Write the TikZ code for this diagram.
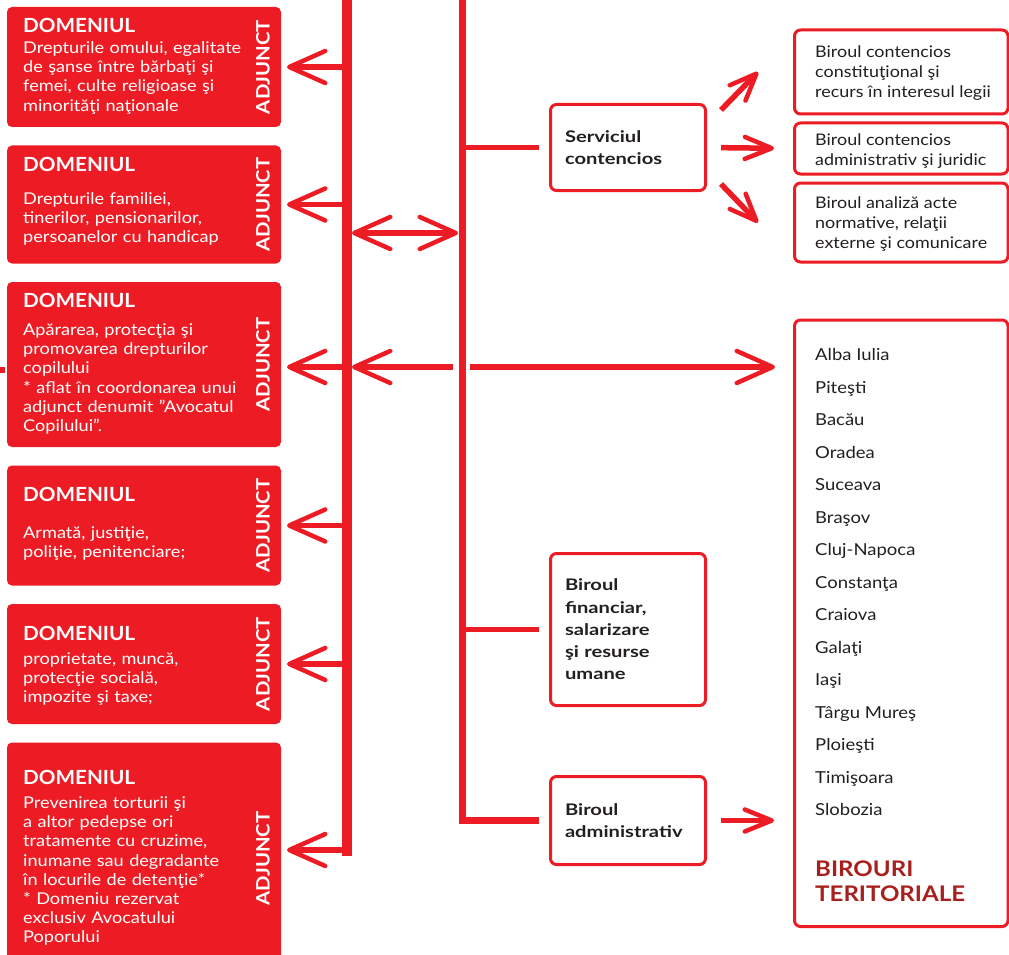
\documentclass[tikz,border=0pt]{standalone}
\usepackage{fontspec}
\setmainfont{Lato}[FakeStretch=1.12]
\newfontfamily\headfont{Lato}[FakeStretch=1.06]
\newfontfamily\officefont{Lato}[FakeStretch=1.26]
\newfontfamily\adjfont{Lato}[FakeStretch=1.1]
\usetikzlibrary{arrows.meta,positioning}
\definecolor{Red}{HTML}{ED1C24}
\definecolor{Ink}{HTML}{231F20}
\definecolor{DarkRed}{HTML}{A8201E}
\hyphenpenalty=10000
\exhyphenpenalty=10000
\newcommand{\domhead}{{\headfont\fontsize{19.5pt}{19.5pt}\selectfont\bfseries DOMENIUL}}

\begin{document}
\begin{tikzpicture}[
  x=1pt,y=-1pt,node distance=18.5pt,
  redbox/.style={fill=Red,rounded corners=5pt,minimum width=274pt,inner sep=0pt,outer sep=0pt},
  domtext/.style={text=white,text width=250pt,align=left,inner sep=0pt,font=\fontsize{16.2pt}{19.2pt}\selectfont},
  adj/.style={text=white,rotate=90,inner sep=0pt,font=\adjfont\fontsize{18.5pt}{18.5pt}\selectfont\bfseries},
  wbox/.style={draw=Red,line width=3pt,rounded corners=6pt,fill=white,inner sep=0pt,outer sep=0pt},
  office/.style={wbox,text=Ink,text width=126pt,inner xsep=14.5pt,minimum width=155pt,align=left,font=\officefont\fontsize{16pt}{22.3pt}\selectfont\bfseries},
  rbtext/.style={text=Ink,align=left,inner sep=0pt,font=\fontsize{16pt}{20pt}\selectfont},
  trunk/.style={draw=Red,line width=10pt},
  shaft/.style={draw=Red,line width=5.5pt},
  bigarrow/.style={shaft,-{Straight Barb[length=36pt,width=32pt,line width=4.5pt,round]}},
  smallarrow/.style={shaft,-{Straight Barb[length=27pt,width=22pt,line width=4.5pt,round]}}
]
  \useasboundingbox (0,0) rectangle (1009,955);
  \clip (0,0) rectangle (1009,955);

  % domains on the left
  \node[redbox,minimum height=120pt,anchor=north west] (dom1) at (7,7) {};
  \node[redbox,minimum height=118pt,below=of dom1] (dom2) {};
  \node[redbox,minimum height=165pt,below=of dom2] (dom3) {};
  \node[redbox,minimum height=120pt,below=of dom3] (dom4) {};
  \node[redbox,minimum height=120pt,below=of dom4] (dom5) {};
  \node[redbox,minimum height=232pt,below=of dom5] (dom6) {};

  \node[domtext,below right=11pt and 16pt of dom1.north west] (txt1) {\domhead\\[1.8pt]Drepturile omului, egalitate\\de şanse între bărbaţi şi\\femei, culte religioase şi\\minorităţi naţionale};
  \node[domtext,below right=11.5pt and 16pt of dom2.north west] (txt2) {\domhead\\[13.8pt]Drepturile familiei,\\tinerilor, pensionarilor,\\persoanelor cu handicap};
  \node[domtext,below right=11pt and 16pt of dom3.north west] (txt3) {\domhead\\[8.8pt]Apărarea, protecţia şi\\promovarea drepturilor\\copilului\\{}* aflat în coordonarea unui\\adjunct denumit ”Avocatul\\Copilului”.};
  \node[domtext,below right=21.5pt and 16pt of dom4.north west] (txt4) {\domhead\\[17.8pt]Armată, justiţie,\\poliţie, penitenciare;};
  \node[domtext,below right=22pt and 16pt of dom5.north west] (txt5) {\domhead\\[4.8pt]proprietate, muncă,\\protecţie socială,\\impozite şi taxe;};
  \node[domtext,below right=27.5pt and 16pt of dom6.north west] (txt6) {\domhead\\[4.8pt]Prevenirea torturii şi\\a altor pedepse ori\\tratamente cu cruzime,\\inumane sau degradante\\în locurile de detenţie*\\{}* Domeniu rezervat\\exclusiv Avocatului\\Poporului};

  \node[adj] (adj1) at ([xshift=-18pt]dom1.east) {ADJUNCT};
  \node[adj] (adj2) at ([xshift=-18pt]dom2.east) {ADJUNCT};
  \node[adj] (adj3) at ([xshift=-18pt]dom3.east) {ADJUNCT};
  \node[adj] (adj4) at ([xshift=-18pt]dom4.east) {ADJUNCT};
  \node[adj] (adj5) at ([xshift=-18pt]dom5.east) {ADJUNCT};
  \node[adj] (adj6) at ([xshift=-18pt]dom6.east) {ADJUNCT};

  % offices in the middle
  \node[office,minimum height=86pt] (serv) at (628,147.5) {Serviciul\\contencios};
  \node[office,minimum height=152pt] (fin) at (628,629.5) {Biroul\\financiar,\\salarizare\\şi resurse\\umane};
  \node[office,minimum height=88pt] (adm) at (628,820.5) {Biroul\\administrativ};

  % bureaus on the right
  \node[wbox,minimum width=213.5pt,minimum height=84pt,anchor=north west] (rb1) at (794.5,30) {};
  \node[wbox,minimum width=213.5pt,minimum height=51pt,below=9pt of rb1] (rb2) {};
  \node[wbox,minimum width=213.5pt,minimum height=79pt,below=9pt of rb2] (rb3) {};
  \node[rbtext,below right=16pt and 20.5pt of rb1.north west] (rbt1) {Biroul contencios\\constituţional şi\\recurs în interesul legii};
  \node[rbtext,below right=10.4pt and 20.5pt of rb2.north west] (rbt2) {Biroul contencios\\administrativ şi juridic};
  \node[rbtext,below right=13.4pt and 20.5pt of rb3.north west] (rbt3) {Biroul analiză acte\\normative, relaţii\\externe şi comunicare};

  \node[wbox,minimum width=213.5pt,minimum height=606.5pt,anchor=north west] (terit) at (794.5,320) {};
  \node[rbtext,font=\fontsize{16.5pt}{32.5pt}\selectfont,below right=28.5pt and 20.5pt of terit.north west] (cities) {Alba Iulia\\Piteşti\\Bacău\\Oradea\\Suceava\\Braşov\\Cluj-Napoca\\Constanţa\\Craiova\\Galaţi\\Iaşi\\Târgu Mureş\\Ploieşti\\Timişoara\\Slobozia};
  \node[rbtext,text=DarkRed,font=\fontsize{21.5pt}{25pt}\selectfont\bfseries,above right=24.5pt and 20.5pt of terit.south west] (tername) {BIROURI\\TERITORIALE};

  % trunks
  \coordinate (ltop) at (347,-10);
  \coordinate (lbot) at (347,850);
  \coordinate (rtop) at (462,-10);
  \coordinate (link) at (404,233);
  \coordinate (cross) at (462,367);
  \coordinate (stub) at (-5,370);

  \draw[trunk] (ltop) -- ([yshift=-6pt]lbot);
  \draw[trunk,line width=7pt,shorten >=11.5pt] (rtop) |- (adm.west);
  \draw[shaft,shorten >=11.5pt] (rtop |- serv.west) -- (serv.west);
  \draw[shaft,shorten >=11.5pt] (rtop |- fin.west) -- (fin.west);

  % arrows to the domains
  \draw[bigarrow,shorten >=6pt] (ltop |- dom1.east) -- (dom1.east);
  \draw[bigarrow,shorten >=6pt] (ltop |- dom2.east) -- (dom2.east);
  \draw[bigarrow,shorten >=6pt] (ltop |- cross) -- (dom3.east |- cross);
  \draw[bigarrow,shorten >=6pt] (ltop |- dom4.east) -- (dom4.east);
  \draw[bigarrow,shorten >=6pt] (ltop |- dom5.east) -- (dom5.east);
  \draw[bigarrow,shorten >=6pt] (lbot) -- (dom6.east |- lbot);
  \draw[shaft,shorten >=2pt] (stub) -- (dom3.west |- stub);

  \draw[shaft,{Straight Barb[length=36pt,width=32pt,line width=4.5pt,round]}-{Straight Barb[length=36pt,width=32pt,line width=4.5pt,round]},shorten <=5pt,shorten >=4pt] (ltop |- link) -- (rtop |- link);
  \draw[bigarrow,shorten >=5pt] ([xshift=-9pt]cross) -- (ltop |- cross);
  \draw[bigarrow,shorten >=19.5pt] ([xshift=8pt]cross) -- (terit.west |- cross);

  % arrows to the bureaus
  \draw[smallarrow] ([shift={(15.5pt,-5.5pt)}]serv.north east) -- ([xshift=-36.5pt]rb1.west);
  \draw[smallarrow,shorten <=15.5pt,shorten >=20.5pt] (serv.east) -- (rb2.west);
  \draw[smallarrow] ([shift={(15.5pt,6.5pt)}]serv.south east) -- ([xshift=-36.5pt]rb3.west);
  \draw[smallarrow,shorten <=15.5pt,shorten >=20.5pt] (adm.east) -- (adm.east -| terit.west);
\end{tikzpicture}
\end{document}
